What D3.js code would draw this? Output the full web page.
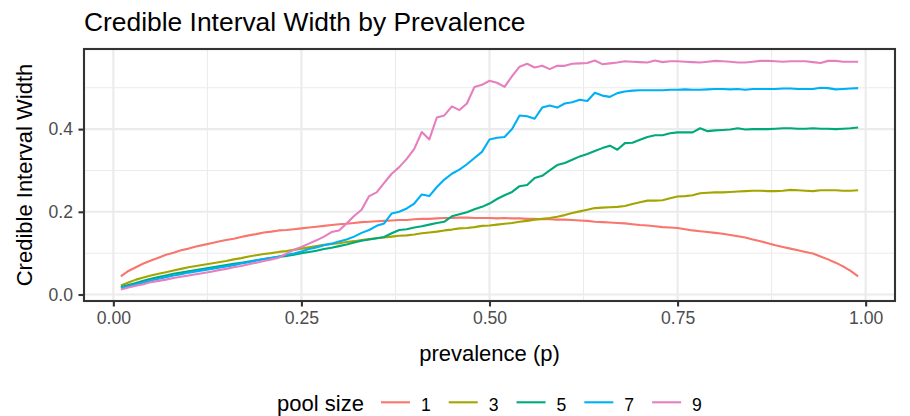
<!DOCTYPE html>
<html><head><meta charset="utf-8">
<script src="https://cdn.jsdelivr.net/npm/d3@7"></script>
<style>
body{margin:0;background:#fff}
svg{display:block}
text{font-family:"Liberation Sans",Arial,Helvetica,sans-serif}
</style>
</head><body>
<svg id="chart" width="910" height="416"></svg>
<script>
// ---- data ----
const prevalence = d3.range(1, 100).map(i => i / 100); // 0.01 .. 0.99
const poolSizes = ["1", "3", "5", "7", "9"];
const pool1 = [.044,.057,.066,.075,.082,.089,.096,.101,.107,.111,.116,.120,.124,.128,.132,.135,.139,.143,.146,.150,
 .152,.155,.156,.158,.160,.162,.164,.166,.168,.170,.171,.173,.175,.176,.177,.178,.179,.180,.180,.182,
 .183,.183,.184,.185,.185,.186,.186,.185,.185,.185,.184,.185,.184,.184,.183,.183,.182,.182,.181,.181,
 .180,.179,.178,.176,.175,.174,.173,.172,.170,.168,.167,.165,.163,.162,.161,.158,.155,.153,.151,.149,
 .147,.144,.141,.138,.133,.129,.124,.119,.115,.111,.107,.103,.099,.092,.085,.077,.068,.057,.044];
const pool3 = [.022,.029,.036,.041,.046,.050,.054,.058,.062,.066,.069,.072,.075,.078,.081,.085,.088,.092,.095,.098,
 .100,.103,.105,.108,.111,.114,.117,.120,.122,.124,.127,.129,.132,.134,.136,.138,.140,.142,.143,.145,
 .148,.150,.152,.155,.157,.160,.161,.163,.166,.167,.169,.171,.173,.176,.178,.181,.183,.185,.188,.192,
 .197,.201,.205,.209,.210,.211,.212,.214,.219,.223,.227,.227,.228,.233,.237,.238,.240,.245,.246,.247,
 .247,.248,.249,.250,.251,.251,.250,.250,.251,.253,.252,.251,.250,.252,.252,.252,.251,.251,.252];
const pool5 = [.018,.023,.028,.033,.038,.042,.046,.050,.053,.056,.059,.062,.065,.068,.071,.074,.077,.080,.083,.086,
 .088,.091,.093,.096,.100,.103,.106,.110,.113,.117,.121,.126,.130,.133,.136,.139,.148,.156,.158,.162,
 .165,.169,.173,.176,.189,.194,.199,.206,.212,.220,.231,.240,.248,.262,.265,.282,.287,.300,.313,.318,
 .326,.334,.340,.347,.354,.360,.350,.366,.367,.374,.381,.385,.385,.390,.392,.392,.392,.402,.395,.397,
 .398,.399,.402,.399,.400,.400,.400,.401,.402,.402,.401,.401,.402,.401,.401,.400,.401,.402,.404];
const pool7 = [.016,.020,.025,.029,.034,.038,.042,.046,.049,.053,.056,.059,.062,.065,.068,.071,.075,.078,.082,.086,
 .089,.092,.096,.099,.104,.110,.114,.119,.123,.128,.133,.140,.149,.156,.166,.172,.196,.200,.208,.220,
 .242,.238,.260,.278,.292,.302,.315,.330,.345,.375,.379,.381,.400,.433,.431,.425,.452,.457,.452,.462,
 .465,.471,.468,.488,.481,.478,.487,.491,.493,.494,.494,.494,.494,.495,.495,.496,.495,.495,.496,.497,
 .497,.496,.497,.495,.497,.497,.497,.497,.498,.498,.497,.497,.497,.500,.499,.496,.497,.498,.499];
const pool9 = [.012,.017,.021,.025,.030,.033,.036,.040,.043,.046,.049,.052,.055,.059,.062,.066,.069,.073,.077,.081,
 .085,.089,.099,.108,.115,.123,.131,.140,.151,.155,.172,.190,.205,.238,.247,.270,.292,.308,.328,.352,
 .393,.375,.428,.433,.455,.446,.462,.502,.507,.517,.512,.502,.528,.551,.558,.549,.553,.545,.553,.553,
 .558,.559,.560,.566,.557,.559,.561,.564,.563,.562,.561,.566,.562,.564,.564,.563,.562,.561,.563,.565,
 .564,.563,.561,.561,.563,.565,.565,.564,.563,.564,.564,.564,.562,.560,.565,.565,.563,.563,.563];
const seriesValues = [pool1, pool3, pool5, pool7, pool9];
const seriesColors = ["#F8766D", "#A3A500", "#00A97C", "#00B0F6", "#E57FBE"];
const xTickValues = [0, 0.25, 0.5, 0.75, 1];
const xMinorValues = [0.125, 0.375, 0.625, 0.875];
const yTickValues = [0, 0.2, 0.4];
const yMinorValues = [0.1, 0.3, 0.5];

// ---- layout ----
const svg = d3.select("#chart");
const P = {l: 84, r: 895, t: 49, b: 301};
const lw = 2.1;

const xExt = d3.extent(prevalence);
const xPad = (xExt[1] - xExt[0]) * 0.05;
const x = d3.scaleLinear().domain([xExt[0] - xPad, xExt[1] + xPad]).range([P.l, P.r]);
const yExt = d3.extent(seriesValues.flat());
const yPad = (yExt[1] - yExt[0]) * 0.05;
const y = d3.scaleLinear().domain([yExt[0] - yPad, yExt[1] + yPad]).range([P.b, P.t]);

// panel background
svg.append("rect").attr("x", P.l).attr("y", P.t).attr("width", P.r - P.l).attr("height", P.b - P.t).attr("fill", "#fff");

const grid = svg.append("g");
// minor grid
grid.selectAll(".xm").data(xMinorValues).join("line")
  .attr("x1", d => x(d)).attr("x2", d => x(d)).attr("y1", P.t).attr("y2", P.b)
  .attr("stroke", "#EBEBEB").attr("stroke-width", lw / 2);
grid.selectAll(".ym").data(yMinorValues).join("line")
  .attr("y1", d => y(d)).attr("y2", d => y(d)).attr("x1", P.l).attr("x2", P.r)
  .attr("stroke", "#EBEBEB").attr("stroke-width", lw / 2);
// major grid
grid.selectAll(".xM").data(xTickValues).join("line")
  .attr("x1", d => x(d)).attr("x2", d => x(d)).attr("y1", P.t).attr("y2", P.b)
  .attr("stroke", "#EBEBEB").attr("stroke-width", lw);
grid.selectAll(".yM").data(yTickValues).join("line")
  .attr("y1", d => y(d)).attr("y2", d => y(d)).attr("x1", P.l).attr("x2", P.r)
  .attr("stroke", "#EBEBEB").attr("stroke-width", lw);

// lines
const line = d3.line().x((d, i) => x(prevalence[i])).y(d => y(d));
svg.append("g").selectAll("path").data(seriesValues).join("path")
  .attr("d", d => line(d))
  .attr("fill", "none")
  .attr("stroke", (d, i) => seriesColors[i])
  .attr("stroke-width", lw)
  .attr("stroke-linejoin", "round");

// panel border
svg.append("rect").attr("x", P.l).attr("y", P.t).attr("width", P.r - P.l).attr("height", P.b - P.t)
  .attr("fill", "none").attr("stroke", "#333333").attr("stroke-width", lw);

// axes
const xAxis = svg.append("g").attr("transform", `translate(0,${P.b})`)
  .call(d3.axisBottom(x).tickValues(xTickValues).tickFormat(d3.format(".2f")).tickSize(5.5).tickPadding(5.3));
const yAxis = svg.append("g").attr("transform", `translate(${P.l},0)`)
  .call(d3.axisLeft(y).tickValues(yTickValues).tickFormat(d3.format(".1f")).tickSize(5.5).tickPadding(5.5));
[xAxis, yAxis].forEach(a => {
  a.select(".domain").remove();
  a.selectAll(".tick line").attr("stroke", "#333333").attr("stroke-width", lw);
  a.selectAll(".tick text").attr("fill", "#4D4D4D").style("font-size", "17.6px")
    .style("font-family", '"Liberation Sans",Arial,sans-serif');
});

// titles
svg.append("text").attr("x", P.l).attr("y", 30.7).attr("fill", "#000")
  .style("font-size", "26.4px").text("Credible Interval Width by Prevalence");
svg.append("text").attr("x", (P.l + P.r) / 2).attr("y", 361).attr("text-anchor", "middle").attr("fill", "#000")
  .style("font-size", "22px").text("prevalence (p)");
svg.append("text").attr("transform", `translate(32,${(P.t + P.b) / 2}) rotate(-90)`)
  .attr("text-anchor", "middle").attr("fill", "#000")
  .style("font-size", "22px").text("Credible Interval Width");

// legend
const leg = svg.append("g");
const legTitle = leg.append("text").attr("y", 411).attr("fill", "#000").style("font-size", "22px").text("pool size");
const tW = legTitle.node().getComputedTextLength();
const keyW = 29, gapTK = 17, gapKL = 11, gapLK = 18;
let cx = tW + gapTK;
const items = [];
poolSizes.forEach((s, i) => {
  const g = leg.append("g");
  g.append("line").attr("x1", cx).attr("x2", cx + keyW).attr("y1", 402.3).attr("y2", 402.3)
    .attr("stroke", seriesColors[i]).attr("stroke-width", lw);
  const t = g.append("text").attr("x", cx + keyW + gapKL).attr("y", 411).attr("fill", "#000")
    .style("font-size", "17.6px").text(s);
  cx += keyW + gapKL + t.node().getComputedTextLength() + (i < poolSizes.length - 1 ? gapLK : 0);
});
const total = cx;
leg.attr("transform", `translate(${(P.l + P.r) / 2 - total / 2},0)`);
</script>
</body></html>
